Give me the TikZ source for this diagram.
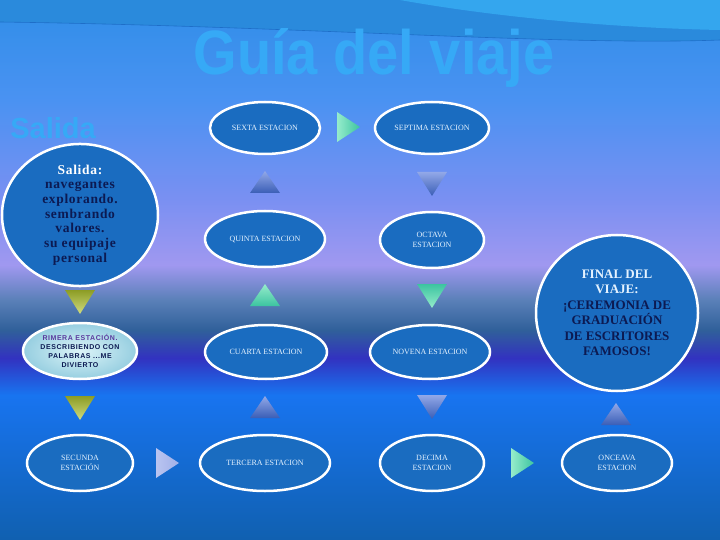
\documentclass[tikz,border=0pt]{standalone}
\usepackage{fontspec}
\setmainfont{Liberation Serif}
\newfontfamily\titulofont{Liberation Sans}
\newfontfamily\salidafont[LetterSpace=5]{Liberation Serif}
\newfontfamily\primerafont[LetterSpace=8]{Liberation Sans}
\usetikzlibrary{shapes.geometric}

\definecolor{azulest}{HTML}{1A6CC0}
\definecolor{marino}{HTML}{0C1A52}
\definecolor{claro}{HTML}{E4F2FF}
\definecolor{titulo}{HTML}{36A9F6}
\definecolor{morado}{HTML}{5A3A9E}
\definecolor{oliva}{HTML}{8C9C24}
\definecolor{olivaclaro}{HTML}{D0DC80}
\definecolor{verdeagua}{HTML}{3CC4A0}
\definecolor{verdeclaro}{HTML}{96ECCB}
\definecolor{lavanda}{HTML}{92A8E8}
\definecolor{azulosc}{HTML}{3A5EB6}
\definecolor{lila}{HTML}{BAC4F0}
\definecolor{lilaosc}{HTML}{A0B0E8}
\definecolor{aguaclaro}{HTML}{DCF4F8}
\definecolor{aguaosc}{HTML}{96CEE0}
% fondo
\definecolor{fa}{HTML}{2F8EE8}
\definecolor{fb}{HTML}{4A92F2}
\definecolor{fc}{HTML}{7A90F2}
\definecolor{fd}{HTML}{A098F0}
\definecolor{fe}{HTML}{5A80B8}
\definecolor{ff}{HTML}{30609A}
\definecolor{fg}{HTML}{3232C0}
\definecolor{fh}{HTML}{1874F0}
\definecolor{fi}{HTML}{1060B0}
\definecolor{franja}{HTML}{2A8ADC}
\definecolor{brillo}{HTML}{34A6EE}
\definecolor{linea}{HTML}{1E6EC8}

% triangulos: x, y, color 1, color 2
\newcommand{\trabajo}[4]{\shade[top color=#3,bottom color=#4] (#1-15,#2-12) -- (#1+15,#2-12) -- (#1,#2+12) -- cycle;}
\newcommand{\trarriba}[4]{\shade[top color=#3,bottom color=#4] (#1-15,#2+11) -- (#1+15,#2+11) -- (#1,#2-11) -- cycle;}
\newcommand{\trderecha}[4]{\shade[left color=#3,right color=#4] (#1-11,#2-15) -- (#1-11,#2+15) -- (#1+12,#2) -- cycle;}

\begin{document}
\begin{tikzpicture}[
    x=1pt, y=-1pt,
    estacion/.style={ellipse,draw=white,line width=2.5pt,fill=azulest,text=claro,
        align=center,inner sep=0pt,minimum height=54pt,
        font=\fontsize{8}{10}\selectfont},
    circulo/.style={ellipse,draw=white,line width=2.5pt,fill=azulest,text=marino,
        align=center,inner sep=0pt}
]
\useasboundingbox (0,0) rectangle (720,540);

% fondo
\shade[top color=fa,bottom color=fb] (0,0) rectangle (720,100);
\shade[top color=fb,bottom color=fc] (0,100) rectangle (720,200);
\shade[top color=fc,bottom color=fd] (0,200) rectangle (720,265);
\shade[top color=fd,bottom color=fe] (0,265) rectangle (720,300);
\shade[top color=fe,bottom color=ff] (0,300) rectangle (720,330);
\shade[top color=ff,bottom color=fg] (0,330) rectangle (720,358);
\shade[top color=fg,bottom color=fh] (0,358) rectangle (720,395);
\shade[top color=fh,bottom color=fi] (0,395) rectangle (720,540);
\fill[franja] (0,0) -- (720,0) -- (720,40) .. controls (560,46) and (300,26) .. (0,22) -- cycle;
\fill[brillo] (400,0) .. controls (500,18) and (620,28) .. (720,30) -- (720,0) -- cycle;
\draw[linea,line width=0.6pt] (0,22) .. controls (300,26) and (560,46) .. (720,40);

% titulos
\node[anchor=base,text=titulo,font=\titulofont\bfseries\fontsize{56}{56}\selectfont] (titulo) at (374,75)
    {\scalebox{1}[1.12]{Guía del viaje}};
\node[anchor=base,text=titulo,font=\titulofont\bfseries\fontsize{29}{29}\selectfont] (salidatit) at (53,139)
    {Salida};

% columna izquierda
\node[circulo,minimum width=156pt,minimum height=134pt,
    font=\salidafont\bfseries\fontsize{13.5}{14.7}\selectfont] (salida) at (80,215)
    {\textcolor{white}{Salida:}\\navegantes\\explorando.\\sembrando\\valores.\\su equipaje\\personal};
\node[ellipse,draw=white,line width=2.5pt,inner color=aguaclaro,outer color=aguaosc,
    align=center,inner sep=0pt,minimum width=114pt,minimum height=56pt,text=marino,
    font=\primerafont\bfseries\fontsize{7}{9}\selectfont] (primera) at (80,351)
    {\textcolor{morado}{RIMERA ESTACIÓN.}\\DESCRIBIENDO CON\\PALABRAS ...ME\\DIVIERTO};
\node[estacion,minimum width=106pt,minimum height=56pt] (segunda) at (80,463) {SECUNDA\\ESTACIÓN};

% columnas centrales
\node[estacion,minimum width=110pt,minimum height=52pt] (sexta) at (265,128) {SEXTA ESTACION};
\node[estacion,minimum width=114pt,minimum height=52pt] (septima) at (432,128) {SEPTIMA ESTACION};
\node[estacion,minimum width=120pt,minimum height=56pt] (quinta) at (265,239) {QUINTA ESTACION};
\node[estacion,minimum width=104pt,minimum height=56pt] (octava) at (432,240) {OCTAVA\\ESTACION};
\node[estacion,minimum width=122pt] (cuarta) at (266,352) {CUARTA ESTACION};
\node[estacion,minimum width=120pt] (novena) at (430,352) {NOVENA ESTACION};
\node[estacion,minimum width=130pt,minimum height=56pt] (tercera) at (265,463) {TERCERA ESTACION};
\node[estacion,minimum width=104pt,minimum height=56pt] (decima) at (432,463) {DECIMA\\ESTACION};

% columna derecha
\node[circulo,minimum width=162pt,minimum height=156pt,
    font=\bfseries\fontsize{13}{15.5}\selectfont] (final) at (617,313)
    {\textcolor{claro}{FINAL DEL}\\\textcolor{claro}{VIAJE:}\\¡CEREMONIA DE\\GRADUACIÓN\\DE ESCRITORES\\FAMOSOS!};
\node[estacion,minimum width=110pt,minimum height=56pt] (onceava) at (617,463) {ONCEAVA\\ESTACION};

% flechas
\trabajo{80}{302}{oliva}{olivaclaro}
\trabajo{80}{408}{oliva}{olivaclaro}
\trderecha{167}{463}{lila}{lilaosc}
\trarriba{265}{407}{lavanda}{azulosc}
\trarriba{265}{295}{verdeclaro}{verdeagua}
\trarriba{265}{182}{lavanda}{azulosc}
\trderecha{348}{127}{verdeclaro}{verdeagua}
\trabajo{432}{184}{lavanda}{azulosc}
\trabajo{432}{296}{verdeagua}{verdeclaro}
\trabajo{432}{407}{lavanda}{azulosc}
\trderecha{522}{463}{verdeclaro}{verdeagua}
\trarriba{616}{414}{lavanda}{azulosc}
\end{tikzpicture}
\end{document}
